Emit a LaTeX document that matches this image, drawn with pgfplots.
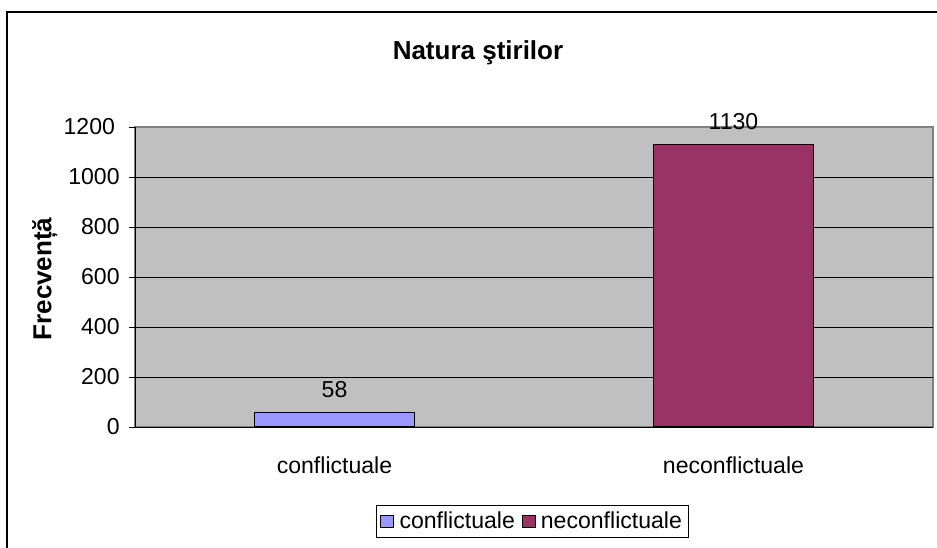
\documentclass[border=0pt]{standalone}
\usepackage{pgfplots}
\pgfplotsset{compat=1.18}
\usepackage{fontspec}
\setmainfont{Liberation Sans}
\definecolor{plotbg}{HTML}{C0C0C0}
\definecolor{cblue}{HTML}{9999FF}
\definecolor{cwine}{HTML}{993366}
\definecolor{framegray}{HTML}{808080}
\newcommand{\reg}{\fontsize{17.3}{20}\selectfont}
\newcommand{\bld}{\fontsize{19.5}{23}\selectfont\bfseries}
\begin{document}
\begin{tikzpicture}
\useasboundingbox (0,0) rectangle (702.75pt,410.25pt);
\draw[black, line width=0.9pt] (5.25pt,-10pt) -- (5.25pt,401.25pt) -- (712pt,401.25pt);
\node[font=\bld, anchor=base, inner sep=0pt] at (358.5pt,365.25pt) {Natura ştirilor};
\node[font=\bld, rotate=90, anchor=base, inner sep=0pt] at (38.6pt,201pt) {Frecvență};
\begin{axis}[
  at={(101.25pt,90pt)}, anchor=south west,
  scale only axis, width=598.5pt, height=225pt,
  xmin=-0.5, xmax=1.5, ymin=0, ymax=1200,
  ybar, bar width=120pt,
  axis lines*=left,
  axis line style={black, line width=0.75pt},
  axis background/.style={fill=plotbg, draw=framegray, line width=0.9pt},
  /pgf/number format/assume math mode=true,
  /pgf/number format/1000 sep={},
  ticklabel style={font=\reg},
  tick align=outside,
  major tick length=4.5pt,
  tick style={black, line width=0.6pt},
  ytick={0,200,400,600,800,1000},
  yticklabel style={xshift=-3.5pt},
  extra y ticks={1200},
  extra y tick style={grid=none, yticklabel style={xshift=-3.5pt}},
  ymajorgrids,
  grid style={black, line width=0.6pt},
  xtick={0,1},
  xticklabels={conflictuale, neconflictuale},
  x tick style={draw=none},
  xticklabel style={yshift=-14.5pt},
  extra x ticks={-0.5,0.5,1.5},
  extra x tick labels={},
  extra x tick style={grid=none, xticklabel style={yshift=0pt}, major tick style={draw=black, line width=0.6pt}},
  nodes near coords,
  every node near coord/.append style={font=\reg, black, anchor=south, yshift=7.5pt},
  legend style={at={(axis description cs:0.498,-0.26)}, anchor=north, draw=black, fill=white,
    legend columns=2, font=\reg, inner xsep=3pt, inner ysep=3pt, line width=0.75pt,
    /tikz/every odd column/.append style={column sep=2pt},
    /tikz/every even column/.append style={column sep=3pt}},
  legend image code/.code={\draw[#1, draw=black, line width=0.75pt] (0pt,-4.8pt) rectangle (9.75pt,4.8pt);},
]
\addplot[fill=cblue, draw=black, line width=0.9pt, bar shift=0pt] coordinates {(0,58)};
\addlegendentry{conflictuale}
\addplot[fill=cwine, draw=black, line width=0.9pt, bar shift=0pt] coordinates {(1,1130)};
\addlegendentry{neconflictuale}
\end{axis}
\end{tikzpicture}
\end{document}
